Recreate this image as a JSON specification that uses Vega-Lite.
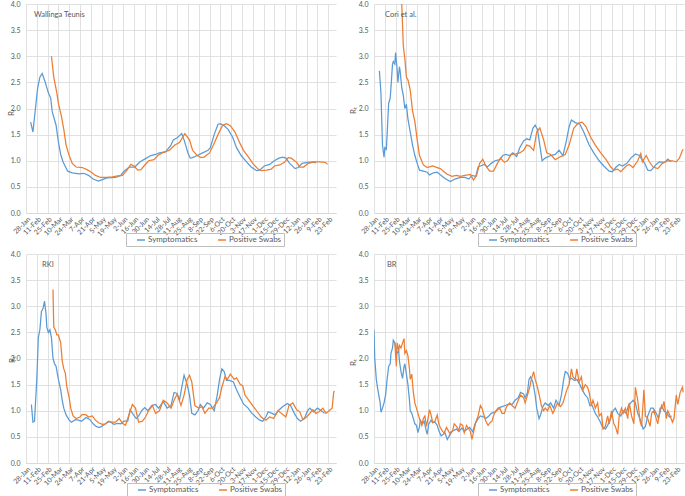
{
"$schema": "https://vega.github.io/schema/vega-lite/v6.json",
"padding": {"left": 7, "top": 0, "right": 2, "bottom": 0},
"background": "white",
"columns": 2,
"spacing": {"row": 41, "column": 38},
"bounds": "flush",
"datasets": {
"W": [
{"s":"S","d":"2020-02-03","v":1.74},{"s":"S","d":"2020-02-06","v":1.55},{"s":"S","d":"2020-02-12","v":2.38},{"s":"S","d":"2020-02-15","v":2.6},{"s":"S","d":"2020-02-18","v":2.67},{"s":"S","d":"2020-02-22","v":2.5},{"s":"S","d":"2020-02-26","v":2.3},{"s":"S","d":"2020-02-29","v":2.2},{"s":"S","d":"2020-03-02","v":1.94},{"s":"S","d":"2020-03-07","v":1.68},{"s":"S","d":"2020-03-10","v":1.36},{"s":"S","d":"2020-03-13","v":1.12},{"s":"S","d":"2020-03-16","v":0.98},{"s":"S","d":"2020-03-22","v":0.8},{"s":"S","d":"2020-03-28","v":0.77},{"s":"S","d":"2020-04-06","v":0.75},{"s":"S","d":"2020-04-12","v":0.76},{"s":"S","d":"2020-04-18","v":0.72},{"s":"S","d":"2020-04-24","v":0.65},{"s":"S","d":"2020-05-01","v":0.61},{"s":"S","d":"2020-05-06","v":0.64},{"s":"S","d":"2020-05-12","v":0.67},{"s":"S","d":"2020-05-23","v":0.68},{"s":"S","d":"2020-05-30","v":0.72},{"s":"S","d":"2020-06-03","v":0.8},{"s":"S","d":"2020-06-10","v":0.88},{"s":"S","d":"2020-06-17","v":0.88},{"s":"S","d":"2020-06-24","v":0.98},{"s":"S","d":"2020-07-01","v":1.04},{"s":"S","d":"2020-07-08","v":1.1},{"s":"S","d":"2020-07-14","v":1.12},{"s":"S","d":"2020-07-19","v":1.15},{"s":"S","d":"2020-07-27","v":1.17},{"s":"S","d":"2020-08-03","v":1.3},{"s":"S","d":"2020-08-06","v":1.4},{"s":"S","d":"2020-08-11","v":1.44},{"s":"S","d":"2020-08-17","v":1.52},{"s":"S","d":"2020-08-20","v":1.4},{"s":"S","d":"2020-08-25","v":1.15},{"s":"S","d":"2020-08-28","v":1.05},{"s":"S","d":"2020-08-31","v":1.06},{"s":"S","d":"2020-09-06","v":1.1},{"s":"S","d":"2020-09-13","v":1.15},{"s":"S","d":"2020-09-20","v":1.2},{"s":"S","d":"2020-09-23","v":1.25},{"s":"S","d":"2020-09-28","v":1.5},{"s":"S","d":"2020-10-03","v":1.7},{"s":"S","d":"2020-10-06","v":1.71},{"s":"S","d":"2020-10-11","v":1.67},{"s":"S","d":"2020-10-16","v":1.6},{"s":"S","d":"2020-10-22","v":1.45},{"s":"S","d":"2020-10-27","v":1.25},{"s":"S","d":"2020-11-02","v":1.1},{"s":"S","d":"2020-11-09","v":0.98},{"s":"S","d":"2020-11-15","v":0.88},{"s":"S","d":"2020-11-22","v":0.81},{"s":"S","d":"2020-11-26","v":0.82},{"s":"S","d":"2020-12-02","v":0.9},{"s":"S","d":"2020-12-09","v":0.93},{"s":"S","d":"2020-12-15","v":1.0},{"s":"S","d":"2020-12-21","v":1.05},{"s":"S","d":"2020-12-26","v":1.07},{"s":"S","d":"2020-12-30","v":1.05},{"s":"S","d":"2021-01-04","v":0.95},{"s":"S","d":"2021-01-11","v":0.85},{"s":"S","d":"2021-01-15","v":0.87},{"s":"S","d":"2021-01-20","v":0.95},{"s":"S","d":"2021-01-28","v":0.97},{"s":"S","d":"2021-02-03","v":0.98},{"s":"S","d":"2021-02-07","v":0.96},
{"s":"P","d":"2020-03-01","v":3.0},{"s":"P","d":"2020-03-04","v":2.6},{"s":"P","d":"2020-03-08","v":2.3},{"s":"P","d":"2020-03-10","v":2.1},{"s":"P","d":"2020-03-14","v":1.85},{"s":"P","d":"2020-03-17","v":1.6},{"s":"P","d":"2020-03-20","v":1.3},{"s":"P","d":"2020-03-24","v":1.1},{"s":"P","d":"2020-03-28","v":0.95},{"s":"P","d":"2020-04-02","v":0.88},{"s":"P","d":"2020-04-10","v":0.87},{"s":"P","d":"2020-04-16","v":0.83},{"s":"P","d":"2020-04-21","v":0.79},{"s":"P","d":"2020-04-27","v":0.72},{"s":"P","d":"2020-05-04","v":0.68},{"s":"P","d":"2020-05-11","v":0.68},{"s":"P","d":"2020-05-19","v":0.69},{"s":"P","d":"2020-05-26","v":0.71},{"s":"P","d":"2020-06-01","v":0.72},{"s":"P","d":"2020-06-06","v":0.8},{"s":"P","d":"2020-06-12","v":0.93},{"s":"P","d":"2020-06-16","v":0.9},{"s":"P","d":"2020-06-21","v":0.82},{"s":"P","d":"2020-06-25","v":0.83},{"s":"P","d":"2020-06-29","v":0.9},{"s":"P","d":"2020-07-05","v":1.0},{"s":"P","d":"2020-07-12","v":1.02},{"s":"P","d":"2020-07-17","v":1.1},{"s":"P","d":"2020-07-24","v":1.16},{"s":"P","d":"2020-08-01","v":1.2},{"s":"P","d":"2020-08-08","v":1.3},{"s":"P","d":"2020-08-14","v":1.35},{"s":"P","d":"2020-08-21","v":1.52},{"s":"P","d":"2020-08-27","v":1.4},{"s":"P","d":"2020-08-31","v":1.2},{"s":"P","d":"2020-09-06","v":1.1},{"s":"P","d":"2020-09-11","v":1.06},{"s":"P","d":"2020-09-15","v":1.07},{"s":"P","d":"2020-09-22","v":1.15},{"s":"P","d":"2020-09-27","v":1.3},{"s":"P","d":"2020-10-03","v":1.5},{"s":"P","d":"2020-10-09","v":1.68},{"s":"P","d":"2020-10-14","v":1.71},{"s":"P","d":"2020-10-19","v":1.67},{"s":"P","d":"2020-10-25","v":1.55},{"s":"P","d":"2020-10-31","v":1.35},{"s":"P","d":"2020-11-05","v":1.2},{"s":"P","d":"2020-11-12","v":1.06},{"s":"P","d":"2020-11-17","v":0.95},{"s":"P","d":"2020-11-24","v":0.84},{"s":"P","d":"2020-11-28","v":0.81},{"s":"P","d":"2020-12-05","v":0.82},{"s":"P","d":"2020-12-11","v":0.84},{"s":"P","d":"2020-12-15","v":0.9},{"s":"P","d":"2020-12-22","v":0.92},{"s":"P","d":"2020-12-28","v":0.97},{"s":"P","d":"2021-01-02","v":1.06},{"s":"P","d":"2021-01-06","v":1.05},{"s":"P","d":"2021-01-13","v":0.97},{"s":"P","d":"2021-01-17","v":0.88},{"s":"P","d":"2021-01-22","v":0.88},{"s":"P","d":"2021-01-28","v":0.95},{"s":"P","d":"2021-02-05","v":0.98},{"s":"P","d":"2021-02-12","v":0.98},{"s":"P","d":"2021-02-19","v":0.97},{"s":"P","d":"2021-02-22","v":0.93}
],
"C": [
{"s":"S","d":"2020-02-04","v":2.72},{"s":"S","d":"2020-02-06","v":2.3},{"s":"S","d":"2020-02-07","v":1.8},{"s":"S","d":"2020-02-08","v":1.3},{"s":"S","d":"2020-02-10","v":1.07},{"s":"S","d":"2020-02-11","v":1.25},{"s":"S","d":"2020-02-13","v":1.22},{"s":"S","d":"2020-02-14","v":1.5},{"s":"S","d":"2020-02-16","v":2.1},{"s":"S","d":"2020-02-18","v":2.2},{"s":"S","d":"2020-02-19","v":2.4},{"s":"S","d":"2020-02-21","v":2.85},{"s":"S","d":"2020-02-22","v":2.9},{"s":"S","d":"2020-02-24","v":2.85},{"s":"S","d":"2020-02-25","v":3.07},{"s":"S","d":"2020-02-27","v":2.75},{"s":"S","d":"2020-02-28","v":2.5},{"s":"S","d":"2020-03-01","v":2.8},{"s":"S","d":"2020-03-02","v":2.7},{"s":"S","d":"2020-03-04","v":2.4},{"s":"S","d":"2020-03-06","v":2.25},{"s":"S","d":"2020-03-08","v":2.0},{"s":"S","d":"2020-03-10","v":2.08},{"s":"S","d":"2020-03-12","v":1.8},{"s":"S","d":"2020-03-15","v":1.55},{"s":"S","d":"2020-03-18","v":1.3},{"s":"S","d":"2020-03-21","v":1.1},{"s":"S","d":"2020-03-24","v":0.95},{"s":"S","d":"2020-03-27","v":0.82},{"s":"S","d":"2020-04-01","v":0.8},{"s":"S","d":"2020-04-06","v":0.78},{"s":"S","d":"2020-04-09","v":0.73},{"s":"S","d":"2020-04-14","v":0.77},{"s":"S","d":"2020-04-19","v":0.78},{"s":"S","d":"2020-04-23","v":0.73},{"s":"S","d":"2020-04-29","v":0.66},{"s":"S","d":"2020-05-06","v":0.6},{"s":"S","d":"2020-05-12","v":0.65},{"s":"S","d":"2020-05-19","v":0.68},{"s":"S","d":"2020-05-25","v":0.68},{"s":"S","d":"2020-05-30","v":0.65},{"s":"S","d":"2020-06-03","v":0.72},{"s":"S","d":"2020-06-08","v":0.7},{"s":"S","d":"2020-06-11","v":0.88},{"s":"S","d":"2020-06-14","v":0.9},{"s":"S","d":"2020-06-19","v":0.93},{"s":"S","d":"2020-06-23","v":0.88},{"s":"S","d":"2020-06-28","v":0.95},{"s":"S","d":"2020-07-03","v":1.0},{"s":"S","d":"2020-07-09","v":1.02},{"s":"S","d":"2020-07-13","v":1.1},{"s":"S","d":"2020-07-17","v":1.12},{"s":"S","d":"2020-07-22","v":1.1},{"s":"S","d":"2020-07-26","v":1.15},{"s":"S","d":"2020-07-31","v":1.08},{"s":"S","d":"2020-08-04","v":1.25},{"s":"S","d":"2020-08-09","v":1.38},{"s":"S","d":"2020-08-13","v":1.42},{"s":"S","d":"2020-08-17","v":1.4},{"s":"S","d":"2020-08-21","v":1.62},{"s":"S","d":"2020-08-24","v":1.68},{"s":"S","d":"2020-08-27","v":1.6},{"s":"S","d":"2020-08-30","v":1.3},{"s":"S","d":"2020-09-02","v":1.0},{"s":"S","d":"2020-09-06","v":1.05},{"s":"S","d":"2020-09-13","v":1.1},{"s":"S","d":"2020-09-19","v":1.12},{"s":"S","d":"2020-09-24","v":1.2},{"s":"S","d":"2020-09-29","v":1.1},{"s":"S","d":"2020-10-03","v":1.35},{"s":"S","d":"2020-10-07","v":1.65},{"s":"S","d":"2020-10-10","v":1.78},{"s":"S","d":"2020-10-15","v":1.73},{"s":"S","d":"2020-10-21","v":1.7},{"s":"S","d":"2020-10-26","v":1.55},{"s":"S","d":"2020-11-02","v":1.3},{"s":"S","d":"2020-11-08","v":1.15},{"s":"S","d":"2020-11-15","v":1.0},{"s":"S","d":"2020-11-21","v":0.9},{"s":"S","d":"2020-11-28","v":0.8},{"s":"S","d":"2020-12-02","v":0.79},{"s":"S","d":"2020-12-07","v":0.88},{"s":"S","d":"2020-12-11","v":0.93},{"s":"S","d":"2020-12-15","v":0.9},{"s":"S","d":"2020-12-21","v":0.95},{"s":"S","d":"2020-12-26","v":1.05},{"s":"S","d":"2021-01-01","v":1.13},{"s":"S","d":"2021-01-06","v":1.1},{"s":"S","d":"2021-01-13","v":0.95},{"s":"S","d":"2021-01-17","v":0.82},{"s":"S","d":"2021-01-21","v":0.81},{"s":"S","d":"2021-01-28","v":0.93},{"s":"S","d":"2021-02-01","v":0.98},{"s":"S","d":"2021-02-08","v":0.97},{"s":"S","d":"2021-02-12","v":1.03},{"s":"S","d":"2021-02-16","v":0.98},
{"s":"P","d":"2020-03-03","v":4.4},{"s":"P","d":"2020-03-06","v":3.2},{"s":"P","d":"2020-03-08","v":2.95},{"s":"P","d":"2020-03-10","v":2.6},{"s":"P","d":"2020-03-12","v":2.55},{"s":"P","d":"2020-03-15","v":2.35},{"s":"P","d":"2020-03-18","v":1.95},{"s":"P","d":"2020-03-21","v":1.75},{"s":"P","d":"2020-03-24","v":1.4},{"s":"P","d":"2020-03-27","v":1.1},{"s":"P","d":"2020-04-01","v":0.92},{"s":"P","d":"2020-04-06","v":0.87},{"s":"P","d":"2020-04-13","v":0.9},{"s":"P","d":"2020-04-19","v":0.87},{"s":"P","d":"2020-04-23","v":0.85},{"s":"P","d":"2020-04-27","v":0.8},{"s":"P","d":"2020-05-02","v":0.74},{"s":"P","d":"2020-05-08","v":0.7},{"s":"P","d":"2020-05-14","v":0.72},{"s":"P","d":"2020-05-19","v":0.7},{"s":"P","d":"2020-05-25","v":0.72},{"s":"P","d":"2020-06-01","v":0.74},{"s":"P","d":"2020-06-05","v":0.63},{"s":"P","d":"2020-06-09","v":0.72},{"s":"P","d":"2020-06-13","v":0.95},{"s":"P","d":"2020-06-17","v":1.03},{"s":"P","d":"2020-06-21","v":0.9},{"s":"P","d":"2020-06-26","v":0.8},{"s":"P","d":"2020-07-01","v":0.8},{"s":"P","d":"2020-07-06","v":0.95},{"s":"P","d":"2020-07-10","v":1.05},{"s":"P","d":"2020-07-15","v":0.97},{"s":"P","d":"2020-07-19","v":1.0},{"s":"P","d":"2020-07-24","v":1.12},{"s":"P","d":"2020-07-30","v":1.13},{"s":"P","d":"2020-08-04","v":1.15},{"s":"P","d":"2020-08-09","v":1.2},{"s":"P","d":"2020-08-13","v":1.3},{"s":"P","d":"2020-08-17","v":1.28},{"s":"P","d":"2020-08-22","v":1.2},{"s":"P","d":"2020-08-26","v":1.55},{"s":"P","d":"2020-08-30","v":1.63},{"s":"P","d":"2020-09-04","v":1.4},{"s":"P","d":"2020-09-08","v":1.15},{"s":"P","d":"2020-09-13","v":1.12},{"s":"P","d":"2020-09-19","v":1.02},{"s":"P","d":"2020-09-26","v":1.08},{"s":"P","d":"2020-10-02","v":1.12},{"s":"P","d":"2020-10-07","v":1.3},{"s":"P","d":"2020-10-13","v":1.62},{"s":"P","d":"2020-10-19","v":1.72},{"s":"P","d":"2020-10-24","v":1.74},{"s":"P","d":"2020-10-29","v":1.65},{"s":"P","d":"2020-11-04","v":1.45},{"s":"P","d":"2020-11-10","v":1.3},{"s":"P","d":"2020-11-17","v":1.15},{"s":"P","d":"2020-11-24","v":1.02},{"s":"P","d":"2020-11-30","v":0.88},{"s":"P","d":"2020-12-04","v":0.82},{"s":"P","d":"2020-12-09","v":0.84},{"s":"P","d":"2020-12-13","v":0.79},{"s":"P","d":"2020-12-20","v":0.9},{"s":"P","d":"2020-12-24","v":0.93},{"s":"P","d":"2020-12-29","v":0.87},{"s":"P","d":"2021-01-04","v":1.0},{"s":"P","d":"2021-01-08","v":1.14},{"s":"P","d":"2021-01-10","v":0.98},{"s":"P","d":"2021-01-15","v":1.1},{"s":"P","d":"2021-01-19","v":0.98},{"s":"P","d":"2021-01-24","v":0.88},{"s":"P","d":"2021-01-30","v":0.85},{"s":"P","d":"2021-02-05","v":0.95},{"s":"P","d":"2021-02-12","v":1.0},{"s":"P","d":"2021-02-18","v":1.0},{"s":"P","d":"2021-02-23","v":0.98},{"s":"P","d":"2021-02-27","v":1.05},{"s":"P","d":"2021-03-03","v":1.2},{"s":"P","d":"2021-03-04","v":1.22}
],
"R": [
{"s":"S","d":"2020-02-04","v":1.12},{"s":"S","d":"2020-02-06","v":0.78},{"s":"S","d":"2020-02-08","v":0.8},{"s":"S","d":"2020-02-11","v":1.6},{"s":"S","d":"2020-02-13","v":2.4},{"s":"S","d":"2020-02-15","v":2.55},{"s":"S","d":"2020-02-17","v":2.9},{"s":"S","d":"2020-02-19","v":2.95},{"s":"S","d":"2020-02-21","v":3.1},{"s":"S","d":"2020-02-23","v":2.85},{"s":"S","d":"2020-02-24","v":2.6},{"s":"S","d":"2020-02-26","v":2.5},{"s":"S","d":"2020-02-28","v":2.55},{"s":"S","d":"2020-03-01","v":2.4},{"s":"S","d":"2020-03-03","v":2.0},{"s":"S","d":"2020-03-05","v":1.9},{"s":"S","d":"2020-03-07","v":1.85},{"s":"S","d":"2020-03-10","v":1.6},{"s":"S","d":"2020-03-13","v":1.4},{"s":"S","d":"2020-03-15","v":1.2},{"s":"S","d":"2020-03-17","v":1.05},{"s":"S","d":"2020-03-20","v":0.92},{"s":"S","d":"2020-03-24","v":0.82},{"s":"S","d":"2020-03-27","v":0.78},{"s":"S","d":"2020-04-01","v":0.83},{"s":"S","d":"2020-04-05","v":0.82},{"s":"S","d":"2020-04-09","v":0.8},{"s":"S","d":"2020-04-15","v":0.87},{"s":"S","d":"2020-04-20","v":0.83},{"s":"S","d":"2020-04-24","v":0.75},{"s":"S","d":"2020-04-28","v":0.7},{"s":"S","d":"2020-05-02","v":0.68},{"s":"S","d":"2020-05-06","v":0.71},{"s":"S","d":"2020-05-12","v":0.77},{"s":"S","d":"2020-05-16","v":0.79},{"s":"S","d":"2020-05-21","v":0.74},{"s":"S","d":"2020-05-26","v":0.76},{"s":"S","d":"2020-05-30","v":0.75},{"s":"S","d":"2020-06-03","v":0.8},{"s":"S","d":"2020-06-08","v":0.8},{"s":"S","d":"2020-06-11","v":1.02},{"s":"S","d":"2020-06-14","v":0.95},{"s":"S","d":"2020-06-19","v":0.85},{"s":"S","d":"2020-06-22","v":0.9},{"s":"S","d":"2020-06-26","v":1.0},{"s":"S","d":"2020-06-30","v":1.06},{"s":"S","d":"2020-07-04","v":1.0},{"s":"S","d":"2020-07-09","v":1.1},{"s":"S","d":"2020-07-14","v":1.12},{"s":"S","d":"2020-07-18","v":1.05},{"s":"S","d":"2020-07-24","v":1.18},{"s":"S","d":"2020-07-29","v":1.05},{"s":"S","d":"2020-08-03","v":1.1},{"s":"S","d":"2020-08-07","v":1.35},{"s":"S","d":"2020-08-11","v":1.33},{"s":"S","d":"2020-08-14","v":1.2},{"s":"S","d":"2020-08-17","v":1.45},{"s":"S","d":"2020-08-20","v":1.68},{"s":"S","d":"2020-08-24","v":1.5},{"s":"S","d":"2020-08-27","v":1.3},{"s":"S","d":"2020-08-30","v":0.95},{"s":"S","d":"2020-09-03","v":0.92},{"s":"S","d":"2020-09-07","v":1.0},{"s":"S","d":"2020-09-10","v":1.12},{"s":"S","d":"2020-09-14","v":1.05},{"s":"S","d":"2020-09-19","v":1.15},{"s":"S","d":"2020-09-23","v":1.12},{"s":"S","d":"2020-09-28","v":1.0},{"s":"S","d":"2020-10-02","v":1.3},{"s":"S","d":"2020-10-05","v":1.6},{"s":"S","d":"2020-10-08","v":1.8},{"s":"S","d":"2020-10-11","v":1.75},{"s":"S","d":"2020-10-14","v":1.58},{"s":"S","d":"2020-10-18","v":1.58},{"s":"S","d":"2020-10-23","v":1.55},{"s":"S","d":"2020-10-27","v":1.4},{"s":"S","d":"2020-11-01","v":1.25},{"s":"S","d":"2020-11-05","v":1.13},{"s":"S","d":"2020-11-11","v":1.05},{"s":"S","d":"2020-11-16","v":0.95},{"s":"S","d":"2020-11-21","v":0.88},{"s":"S","d":"2020-11-26","v":0.82},{"s":"S","d":"2020-11-30","v":0.8},{"s":"S","d":"2020-12-04","v":0.88},{"s":"S","d":"2020-12-07","v":0.98},{"s":"S","d":"2020-12-12","v":0.95},{"s":"S","d":"2020-12-16","v":0.92},{"s":"S","d":"2020-12-20","v":1.0},{"s":"S","d":"2020-12-26","v":1.08},{"s":"S","d":"2021-01-01","v":1.14},{"s":"S","d":"2021-01-05","v":1.1},{"s":"S","d":"2021-01-10","v":0.95},{"s":"S","d":"2021-01-14","v":0.85},{"s":"S","d":"2021-01-18","v":0.8},{"s":"S","d":"2021-01-23","v":0.85},{"s":"S","d":"2021-01-27","v":1.0},{"s":"S","d":"2021-01-30","v":1.05},{"s":"S","d":"2021-02-04","v":0.98},{"s":"S","d":"2021-02-09","v":1.05},{"s":"S","d":"2021-02-14","v":1.0},{"s":"S","d":"2021-02-18","v":0.95},
{"s":"P","d":"2020-03-03","v":3.32},{"s":"P","d":"2020-03-04","v":2.6},{"s":"P","d":"2020-03-06","v":2.55},{"s":"P","d":"2020-03-08","v":2.45},{"s":"P","d":"2020-03-10","v":2.45},{"s":"P","d":"2020-03-13","v":2.3},{"s":"P","d":"2020-03-15","v":1.95},{"s":"P","d":"2020-03-17","v":1.8},{"s":"P","d":"2020-03-19","v":1.72},{"s":"P","d":"2020-03-21","v":1.45},{"s":"P","d":"2020-03-24","v":1.25},{"s":"P","d":"2020-03-26","v":1.05},{"s":"P","d":"2020-03-29","v":0.9},{"s":"P","d":"2020-04-02","v":0.85},{"s":"P","d":"2020-04-07","v":0.88},{"s":"P","d":"2020-04-10","v":0.93},{"s":"P","d":"2020-04-15","v":0.92},{"s":"P","d":"2020-04-18","v":0.88},{"s":"P","d":"2020-04-23","v":0.9},{"s":"P","d":"2020-04-27","v":0.82},{"s":"P","d":"2020-05-01","v":0.77},{"s":"P","d":"2020-05-06","v":0.74},{"s":"P","d":"2020-05-10","v":0.75},{"s":"P","d":"2020-05-14","v":0.8},{"s":"P","d":"2020-05-19","v":0.78},{"s":"P","d":"2020-05-23","v":0.78},{"s":"P","d":"2020-05-28","v":0.85},{"s":"P","d":"2020-06-01","v":0.76},{"s":"P","d":"2020-06-05","v":0.72},{"s":"P","d":"2020-06-09","v":0.9},{"s":"P","d":"2020-06-14","v":1.12},{"s":"P","d":"2020-06-18","v":1.05},{"s":"P","d":"2020-06-22","v":0.78},{"s":"P","d":"2020-06-27","v":0.8},{"s":"P","d":"2020-07-01","v":0.88},{"s":"P","d":"2020-07-05","v":1.0},{"s":"P","d":"2020-07-10","v":1.1},{"s":"P","d":"2020-07-14","v":0.95},{"s":"P","d":"2020-07-19","v":1.0},{"s":"P","d":"2020-07-24","v":1.2},{"s":"P","d":"2020-07-29","v":1.15},{"s":"P","d":"2020-08-03","v":1.05},{"s":"P","d":"2020-08-07","v":1.2},{"s":"P","d":"2020-08-11","v":1.32},{"s":"P","d":"2020-08-16","v":1.1},{"s":"P","d":"2020-08-20","v":1.3},{"s":"P","d":"2020-08-24","v":1.6},{"s":"P","d":"2020-08-27","v":1.68},{"s":"P","d":"2020-08-30","v":1.55},{"s":"P","d":"2020-09-03","v":1.1},{"s":"P","d":"2020-09-08","v":1.05},{"s":"P","d":"2020-09-12","v":1.08},{"s":"P","d":"2020-09-16","v":0.95},{"s":"P","d":"2020-09-21","v":1.05},{"s":"P","d":"2020-09-26","v":1.05},{"s":"P","d":"2020-10-01","v":1.15},{"s":"P","d":"2020-10-05","v":1.25},{"s":"P","d":"2020-10-08","v":1.45},{"s":"P","d":"2020-10-12","v":1.65},{"s":"P","d":"2020-10-15","v":1.6},{"s":"P","d":"2020-10-19","v":1.7},{"s":"P","d":"2020-10-24","v":1.6},{"s":"P","d":"2020-10-27","v":1.63},{"s":"P","d":"2020-11-01","v":1.5},{"s":"P","d":"2020-11-04","v":1.48},{"s":"P","d":"2020-11-07","v":1.3},{"s":"P","d":"2020-11-12","v":1.2},{"s":"P","d":"2020-11-17","v":1.1},{"s":"P","d":"2020-11-22","v":1.0},{"s":"P","d":"2020-11-28","v":0.88},{"s":"P","d":"2020-12-04","v":0.82},{"s":"P","d":"2020-12-09","v":0.88},{"s":"P","d":"2020-12-14","v":0.85},{"s":"P","d":"2020-12-20","v":1.0},{"s":"P","d":"2020-12-24","v":0.95},{"s":"P","d":"2020-12-30","v":0.88},{"s":"P","d":"2021-01-03","v":1.1},{"s":"P","d":"2021-01-08","v":1.15},{"s":"P","d":"2021-01-13","v":1.02},{"s":"P","d":"2021-01-17","v":0.98},{"s":"P","d":"2021-01-21","v":0.83},{"s":"P","d":"2021-01-26","v":0.88},{"s":"P","d":"2021-01-30","v":0.95},{"s":"P","d":"2021-02-03","v":1.02},{"s":"P","d":"2021-02-07","v":0.95},{"s":"P","d":"2021-02-11","v":0.98},{"s":"P","d":"2021-02-16","v":1.05},{"s":"P","d":"2021-02-20","v":0.95},{"s":"P","d":"2021-02-24","v":1.0},{"s":"P","d":"2021-02-28","v":1.05},{"s":"P","d":"2021-03-02","v":1.35},{"s":"P","d":"2021-03-03","v":1.38}
],
"B": [
{"s":"S","d":"2020-01-28","v":2.55},{"s":"S","d":"2020-01-29","v":2.0},{"s":"S","d":"2020-01-31","v":1.6},{"s":"S","d":"2020-02-02","v":1.4},{"s":"S","d":"2020-02-05","v":1.15},{"s":"S","d":"2020-02-06","v":0.97},{"s":"S","d":"2020-02-08","v":1.05},{"s":"S","d":"2020-02-10","v":1.15},{"s":"S","d":"2020-02-12","v":1.3},{"s":"S","d":"2020-02-14","v":1.6},{"s":"S","d":"2020-02-16","v":1.85},{"s":"S","d":"2020-02-18","v":1.9},{"s":"S","d":"2020-02-19","v":2.1},{"s":"S","d":"2020-02-21","v":2.2},{"s":"S","d":"2020-02-22","v":2.35},{"s":"S","d":"2020-02-24","v":2.3},{"s":"S","d":"2020-02-26","v":2.15},{"s":"S","d":"2020-02-27","v":2.1},{"s":"S","d":"2020-02-29","v":2.15},{"s":"S","d":"2020-03-01","v":1.95},{"s":"S","d":"2020-03-03","v":1.75},{"s":"S","d":"2020-03-05","v":1.62},{"s":"S","d":"2020-03-07","v":1.85},{"s":"S","d":"2020-03-08","v":1.9},{"s":"S","d":"2020-03-10","v":1.7},{"s":"S","d":"2020-03-12","v":1.5},{"s":"S","d":"2020-03-14","v":1.2},{"s":"S","d":"2020-03-15","v":1.0},{"s":"S","d":"2020-03-17","v":0.95},{"s":"S","d":"2020-03-19","v":0.85},{"s":"S","d":"2020-03-21","v":0.75},{"s":"S","d":"2020-03-23","v":0.72},{"s":"S","d":"2020-03-25","v":0.58},{"s":"S","d":"2020-03-27","v":0.7},{"s":"S","d":"2020-03-28","v":0.82},{"s":"S","d":"2020-03-31","v":0.75},{"s":"S","d":"2020-04-02","v":0.8},{"s":"S","d":"2020-04-05","v":0.6},{"s":"S","d":"2020-04-06","v":0.55},{"s":"S","d":"2020-04-08","v":0.75},{"s":"S","d":"2020-04-11","v":0.82},{"s":"S","d":"2020-04-13","v":0.77},{"s":"S","d":"2020-04-16","v":0.78},{"s":"S","d":"2020-04-19","v":0.72},{"s":"S","d":"2020-04-21","v":0.62},{"s":"S","d":"2020-04-24","v":0.52},{"s":"S","d":"2020-04-27","v":0.55},{"s":"S","d":"2020-04-29","v":0.58},{"s":"S","d":"2020-05-02","v":0.45},{"s":"S","d":"2020-05-04","v":0.5},{"s":"S","d":"2020-05-07","v":0.6},{"s":"S","d":"2020-05-10","v":0.62},{"s":"S","d":"2020-05-14","v":0.65},{"s":"S","d":"2020-05-17","v":0.6},{"s":"S","d":"2020-05-21","v":0.67},{"s":"S","d":"2020-05-24","v":0.6},{"s":"S","d":"2020-05-28","v":0.65},{"s":"S","d":"2020-05-31","v":0.68},{"s":"S","d":"2020-06-04","v":0.6},{"s":"S","d":"2020-06-07","v":0.75},{"s":"S","d":"2020-06-11","v":0.85},{"s":"S","d":"2020-06-14","v":0.9},{"s":"S","d":"2020-06-18","v":0.88},{"s":"S","d":"2020-06-21","v":0.85},{"s":"S","d":"2020-06-25","v":0.9},{"s":"S","d":"2020-06-28","v":0.95},{"s":"S","d":"2020-07-03","v":0.98},{"s":"S","d":"2020-07-07","v":1.05},{"s":"S","d":"2020-07-12","v":1.08},{"s":"S","d":"2020-07-16","v":1.1},{"s":"S","d":"2020-07-20","v":1.12},{"s":"S","d":"2020-07-25","v":1.12},{"s":"S","d":"2020-07-29","v":1.2},{"s":"S","d":"2020-08-02","v":1.25},{"s":"S","d":"2020-08-05","v":1.35},{"s":"S","d":"2020-08-09","v":1.32},{"s":"S","d":"2020-08-11","v":1.25},{"s":"S","d":"2020-08-14","v":1.35},{"s":"S","d":"2020-08-16","v":1.6},{"s":"S","d":"2020-08-18","v":1.65},{"s":"S","d":"2020-08-21","v":1.55},{"s":"S","d":"2020-08-24","v":1.3},{"s":"S","d":"2020-08-26","v":1.05},{"s":"S","d":"2020-08-29","v":0.85},{"s":"S","d":"2020-08-31","v":0.92},{"s":"S","d":"2020-09-03","v":1.08},{"s":"S","d":"2020-09-06","v":1.15},{"s":"S","d":"2020-09-10","v":1.1},{"s":"S","d":"2020-09-13","v":1.15},{"s":"S","d":"2020-09-17","v":1.05},{"s":"S","d":"2020-09-20","v":1.2},{"s":"S","d":"2020-09-24","v":1.1},{"s":"S","d":"2020-09-27","v":1.3},{"s":"S","d":"2020-09-30","v":1.6},{"s":"S","d":"2020-10-02","v":1.75},{"s":"S","d":"2020-10-05","v":1.72},{"s":"S","d":"2020-10-08","v":1.6},{"s":"S","d":"2020-10-10","v":1.62},{"s":"S","d":"2020-10-14","v":1.58},{"s":"S","d":"2020-10-17","v":1.6},{"s":"S","d":"2020-10-21","v":1.5},{"s":"S","d":"2020-10-24","v":1.4},{"s":"S","d":"2020-10-28","v":1.3},{"s":"S","d":"2020-10-31","v":1.25},{"s":"S","d":"2020-11-03","v":1.1},{"s":"S","d":"2020-11-06","v":1.1},{"s":"S","d":"2020-11-10","v":0.95},{"s":"S","d":"2020-11-13","v":0.88},{"s":"S","d":"2020-11-16","v":0.8},{"s":"S","d":"2020-11-19","v":0.7},{"s":"S","d":"2020-11-23","v":0.65},{"s":"S","d":"2020-11-26","v":0.72},{"s":"S","d":"2020-11-30","v":0.85},{"s":"S","d":"2020-12-03","v":1.0},{"s":"S","d":"2020-12-06","v":1.05},{"s":"S","d":"2020-12-09","v":0.95},{"s":"S","d":"2020-12-13","v":0.9},{"s":"S","d":"2020-12-16","v":1.0},{"s":"S","d":"2020-12-20","v":0.95},{"s":"S","d":"2020-12-23","v":1.1},{"s":"S","d":"2020-12-26","v":1.15},{"s":"S","d":"2020-12-29","v":1.2},{"s":"S","d":"2021-01-01","v":1.15},{"s":"S","d":"2021-01-04","v":0.95},{"s":"S","d":"2021-01-08","v":0.8},{"s":"S","d":"2021-01-11","v":0.65},{"s":"S","d":"2021-01-14","v":0.7},{"s":"S","d":"2021-01-17","v":0.9},{"s":"S","d":"2021-01-21","v":1.05},{"s":"S","d":"2021-01-24","v":1.05},{"s":"S","d":"2021-01-28","v":0.95},{"s":"S","d":"2021-01-31","v":0.85},{"s":"S","d":"2021-02-04","v":1.1},{"s":"S","d":"2021-02-07","v":1.0},{"s":"S","d":"2021-02-11","v":0.95},{"s":"S","d":"2021-02-14","v":0.88},{"s":"S","d":"2021-02-17","v":0.9},
{"s":"P","d":"2020-02-24","v":2.3},{"s":"P","d":"2020-02-26","v":1.85},{"s":"P","d":"2020-02-27","v":2.3},{"s":"P","d":"2020-02-29","v":2.15},{"s":"P","d":"2020-03-01","v":2.25},{"s":"P","d":"2020-03-03","v":2.2},{"s":"P","d":"2020-03-05","v":2.3},{"s":"P","d":"2020-03-07","v":2.38},{"s":"P","d":"2020-03-08","v":2.1},{"s":"P","d":"2020-03-10","v":2.15},{"s":"P","d":"2020-03-12","v":2.05},{"s":"P","d":"2020-03-14","v":1.8},{"s":"P","d":"2020-03-15","v":1.6},{"s":"P","d":"2020-03-17","v":1.7},{"s":"P","d":"2020-03-19","v":1.35},{"s":"P","d":"2020-03-21","v":1.15},{"s":"P","d":"2020-03-23","v":1.05},{"s":"P","d":"2020-03-25","v":0.95},{"s":"P","d":"2020-03-27","v":0.85},{"s":"P","d":"2020-03-30","v":0.72},{"s":"P","d":"2020-04-01","v":0.85},{"s":"P","d":"2020-04-03","v":0.9},{"s":"P","d":"2020-04-05","v":0.7},{"s":"P","d":"2020-04-07","v":0.85},{"s":"P","d":"2020-04-09","v":1.02},{"s":"P","d":"2020-04-11","v":0.92},{"s":"P","d":"2020-04-13","v":0.78},{"s":"P","d":"2020-04-16","v":0.8},{"s":"P","d":"2020-04-19","v":0.92},{"s":"P","d":"2020-04-21","v":0.75},{"s":"P","d":"2020-04-23","v":0.68},{"s":"P","d":"2020-04-26","v":0.6},{"s":"P","d":"2020-04-28","v":0.58},{"s":"P","d":"2020-05-01","v":0.68},{"s":"P","d":"2020-05-04","v":0.6},{"s":"P","d":"2020-05-06","v":0.55},{"s":"P","d":"2020-05-09","v":0.62},{"s":"P","d":"2020-05-11","v":0.75},{"s":"P","d":"2020-05-14","v":0.7},{"s":"P","d":"2020-05-17","v":0.62},{"s":"P","d":"2020-05-19","v":0.75},{"s":"P","d":"2020-05-22","v":0.72},{"s":"P","d":"2020-05-24","v":0.58},{"s":"P","d":"2020-05-27","v":0.72},{"s":"P","d":"2020-05-30","v":0.65},{"s":"P","d":"2020-06-01","v":0.6},{"s":"P","d":"2020-06-03","v":0.45},{"s":"P","d":"2020-06-06","v":0.65},{"s":"P","d":"2020-06-08","v":0.78},{"s":"P","d":"2020-06-11","v":0.9},{"s":"P","d":"2020-06-14","v":1.1},{"s":"P","d":"2020-06-16","v":1.05},{"s":"P","d":"2020-06-19","v":0.9},{"s":"P","d":"2020-06-21","v":0.8},{"s":"P","d":"2020-06-24","v":0.72},{"s":"P","d":"2020-06-27","v":0.78},{"s":"P","d":"2020-06-29","v":0.8},{"s":"P","d":"2020-07-02","v":0.95},{"s":"P","d":"2020-07-05","v":1.0},{"s":"P","d":"2020-07-09","v":1.05},{"s":"P","d":"2020-07-12","v":0.95},{"s":"P","d":"2020-07-15","v":0.95},{"s":"P","d":"2020-07-18","v":1.08},{"s":"P","d":"2020-07-22","v":1.15},{"s":"P","d":"2020-07-25","v":1.1},{"s":"P","d":"2020-07-29","v":1.05},{"s":"P","d":"2020-08-02","v":1.2},{"s":"P","d":"2020-08-05","v":1.3},{"s":"P","d":"2020-08-09","v":1.25},{"s":"P","d":"2020-08-11","v":1.15},{"s":"P","d":"2020-08-14","v":1.3},{"s":"P","d":"2020-08-17","v":1.45},{"s":"P","d":"2020-08-19","v":1.6},{"s":"P","d":"2020-08-22","v":1.75},{"s":"P","d":"2020-08-24","v":1.6},{"s":"P","d":"2020-08-27","v":1.45},{"s":"P","d":"2020-08-30","v":1.25},{"s":"P","d":"2020-09-01","v":1.1},{"s":"P","d":"2020-09-04","v":1.0},{"s":"P","d":"2020-09-06","v":1.05},{"s":"P","d":"2020-09-09","v":1.0},{"s":"P","d":"2020-09-12","v":1.1},{"s":"P","d":"2020-09-16","v":0.95},{"s":"P","d":"2020-09-19","v":1.05},{"s":"P","d":"2020-09-22","v":1.15},{"s":"P","d":"2020-09-26","v":1.08},{"s":"P","d":"2020-09-29","v":1.15},{"s":"P","d":"2020-10-02","v":1.3},{"s":"P","d":"2020-10-04","v":1.4},{"s":"P","d":"2020-10-07","v":1.5},{"s":"P","d":"2020-10-10","v":1.8},{"s":"P","d":"2020-10-12","v":1.65},{"s":"P","d":"2020-10-15","v":1.6},{"s":"P","d":"2020-10-17","v":1.8},{"s":"P","d":"2020-10-20","v":1.55},{"s":"P","d":"2020-10-23","v":1.65},{"s":"P","d":"2020-10-25","v":1.4},{"s":"P","d":"2020-10-28","v":1.5},{"s":"P","d":"2020-10-31","v":1.45},{"s":"P","d":"2020-11-02","v":1.35},{"s":"P","d":"2020-11-05","v":1.1},{"s":"P","d":"2020-11-07","v":1.2},{"s":"P","d":"2020-11-10","v":1.05},{"s":"P","d":"2020-11-13","v":1.15},{"s":"P","d":"2020-11-15","v":0.9},{"s":"P","d":"2020-11-18","v":0.95},{"s":"P","d":"2020-11-20","v":0.65},{"s":"P","d":"2020-11-23","v":0.7},{"s":"P","d":"2020-11-26","v":0.9},{"s":"P","d":"2020-11-28","v":0.75},{"s":"P","d":"2020-12-01","v":1.0},{"s":"P","d":"2020-12-04","v":0.75},{"s":"P","d":"2020-12-06","v":0.7},{"s":"P","d":"2020-12-09","v":0.55},{"s":"P","d":"2020-12-11","v":0.9},{"s":"P","d":"2020-12-14","v":1.05},{"s":"P","d":"2020-12-16","v":0.95},{"s":"P","d":"2020-12-19","v":1.05},{"s":"P","d":"2020-12-22","v":0.85},{"s":"P","d":"2020-12-24","v":1.15},{"s":"P","d":"2020-12-27","v":0.9},{"s":"P","d":"2020-12-30","v":0.75},{"s":"P","d":"2021-01-01","v":1.45},{"s":"P","d":"2021-01-04","v":1.2},{"s":"P","d":"2021-01-07","v":0.8},{"s":"P","d":"2021-01-09","v":0.7},{"s":"P","d":"2021-01-12","v":1.4},{"s":"P","d":"2021-01-14","v":0.9},{"s":"P","d":"2021-01-17","v":0.85},{"s":"P","d":"2021-01-20","v":0.7},{"s":"P","d":"2021-01-22","v":0.95},{"s":"P","d":"2021-01-25","v":1.0},{"s":"P","d":"2021-01-28","v":0.85},{"s":"P","d":"2021-01-30","v":0.75},{"s":"P","d":"2021-02-02","v":1.05},{"s":"P","d":"2021-02-05","v":1.05},{"s":"P","d":"2021-02-07","v":1.18},{"s":"P","d":"2021-02-10","v":0.85},{"s":"P","d":"2021-02-12","v":1.0},{"s":"P","d":"2021-02-15","v":0.9},{"s":"P","d":"2021-02-18","v":0.78},{"s":"P","d":"2021-02-20","v":0.85},{"s":"P","d":"2021-02-23","v":1.3},{"s":"P","d":"2021-02-25","v":1.12},{"s":"P","d":"2021-02-28","v":1.35},{"s":"P","d":"2021-03-03","v":1.45},{"s":"P","d":"2021-03-04","v":1.35}
]
},
"concat": [
{"width": 310, "height": 209, "data": {"name": "W"},
 "title": {"text": "Wallinga Teunis", "dx": 27},
 "mark": {"type": "line", "strokeWidth": 1.25, "clip": true},
 "encoding": {
  "x": {"field": "d", "type": "temporal", "title": null, "scale": {"type": "utc", "domain": [1580169600000, 1614902400000]},
   "axis": {"values": [1580169600000,1581379200000,1582588800000,1583798400000,1585008000000,1586217600000,1587427200000,1588636800000,1589846400000,1591056000000,1592265600000,1593475200000,1594684800000,1595894400000,1597104000000,1598313600000,1599523200000,1600732800000,1601942400000,1603152000000,1604361600000,1605571200000,1606780800000,1607990400000,1609200000000,1610409600000,1611619200000,1612828800000,1614038400000], "format": "%-d-%b"}},
  "y": {"field": "v", "type": "quantitative", "scale": {"domain": [0, 4]}, "axis": {"values": [0,0.5,1,1.5,2,2.5,3,3.5,4], "format": ".1f", "title": "Rₜ", "titleX": -11, "titleY": 108}},
  "color": {"field": "s", "type": "nominal", "scale": {"domain": ["S", "P"], "range": ["#5b9bd5", "#ed7d31"]},
   "legend": {"title": null, "legendX": 100, "legendY": 229, "labelExpr": "datum.value == 'S' ? 'Symptomatics' : 'Positive Swabs\u00a0\u00a0\u00a0\u00a0'"}}
 }},
{"width": 310, "height": 209, "data": {"name": "C"},
 "title": {"text": "Cori et al.", "dx": 36},
 "mark": {"type": "line", "strokeWidth": 1.25, "clip": true},
 "encoding": {
  "x": {"field": "d", "type": "temporal", "title": null, "scale": {"type": "utc", "domain": [1580169600000, 1614902400000]},
   "axis": {"values": [1580169600000,1581379200000,1582588800000,1583798400000,1585008000000,1586217600000,1587427200000,1588636800000,1589846400000,1591056000000,1592265600000,1593475200000,1594684800000,1595894400000,1597104000000,1598313600000,1599523200000,1600732800000,1601942400000,1603152000000,1604361600000,1605571200000,1606780800000,1607990400000,1609200000000,1610409600000,1611619200000,1612828800000,1614038400000], "format": "%-d-%b"}},
  "y": {"field": "v", "type": "quantitative", "scale": {"domain": [0, 4]}, "axis": {"values": [0,0.5,1,1.5,2,2.5,3,3.5,4], "format": ".1f", "title": "Rₜ", "titleX": -17, "titleY": 106}},
  "color": {"field": "s", "type": "nominal", "scale": {"domain": ["S", "P"], "range": ["#5b9bd5", "#ed7d31"]},
   "legend": {"title": null, "legendX": 104, "legendY": 229, "labelExpr": "datum.value == 'S' ? 'Symptomatics' : 'Positive Swabs\u00a0\u00a0\u00a0\u00a0'"}}
 }},
{"width": 310, "height": 209, "data": {"name": "R"},
 "title": {"text": "RKI", "dx": 34},
 "mark": {"type": "line", "strokeWidth": 1.25, "clip": true},
 "encoding": {
  "x": {"field": "d", "type": "temporal", "title": null, "scale": {"type": "utc", "domain": [1580169600000, 1614902400000]},
   "axis": {"values": [1580169600000,1581379200000,1582588800000,1583798400000,1585008000000,1586217600000,1587427200000,1588636800000,1589846400000,1591056000000,1592265600000,1593475200000,1594684800000,1595894400000,1597104000000,1598313600000,1599523200000,1600732800000,1601942400000,1603152000000,1604361600000,1605571200000,1606780800000,1607990400000,1609200000000,1610409600000,1611619200000,1612828800000,1614038400000], "format": "%-d-%b"}},
  "y": {"field": "v", "type": "quantitative", "scale": {"domain": [0, 4]}, "axis": {"values": [0,0.5,1,1.5,2,2.5,3,3.5,4], "format": ".1f", "title": "Rₜ", "titleX": -10, "titleY": 105}},
  "color": {"field": "s", "type": "nominal", "scale": {"domain": ["S", "P"], "range": ["#5b9bd5", "#ed7d31"]},
   "legend": {"title": null, "legendX": 101, "legendY": 229, "labelExpr": "datum.value == 'S' ? 'Symptomatics' : 'Positive Swabs\u00a0\u00a0\u00a0\u00a0'"}}
 }},
{"width": 310, "height": 209, "data": {"name": "B"},
 "title": {"text": "BR", "dx": 38},
 "mark": {"type": "line", "strokeWidth": 1.25, "clip": true},
 "encoding": {
  "x": {"field": "d", "type": "temporal", "title": null, "scale": {"type": "utc", "domain": [1580169600000, 1614902400000]},
   "axis": {"values": [1580169600000,1581379200000,1582588800000,1583798400000,1585008000000,1586217600000,1587427200000,1588636800000,1589846400000,1591056000000,1592265600000,1593475200000,1594684800000,1595894400000,1597104000000,1598313600000,1599523200000,1600732800000,1601942400000,1603152000000,1604361600000,1605571200000,1606780800000,1607990400000,1609200000000,1610409600000,1611619200000,1612828800000,1614038400000], "format": "%-d-%b"}},
  "y": {"field": "v", "type": "quantitative", "scale": {"domain": [0, 4]}, "axis": {"values": [0,0.5,1,1.5,2,2.5,3,3.5,4], "format": ".1f", "title": "Rₜ", "titleX": -17, "titleY": 108}},
  "color": {"field": "s", "type": "nominal", "scale": {"domain": ["S", "P"], "range": ["#5b9bd5", "#ed7d31"]},
   "legend": {"title": null, "legendX": 104, "legendY": 229, "labelExpr": "datum.value == 'S' ? 'Symptomatics' : 'Positive Swabs\u00a0\u00a0\u00a0\u00a0'"}}
 }}
],
"resolve": {"legend": {"color": "independent"}},
"config": {
 "font": "Lato",
 "view": {"stroke": null},
 "axis": {"labelFont": "Lato", "labelFontSize": 7, "labelColor": "#595959", "gridColor": "#d9d9d9", "gridWidth": 0.8, "domainColor": "#d9d9d9", "ticks": false, "titleFont": "Lato", "titleFontSize": 8, "titleColor": "#595959", "titleFontWeight": "normal"},
 "axisX": {"labelAngle": -45, "labelPadding": 2, "labelOverlap": false, "labelFlush": false},
 "axisY": {"domain": false, "labelPadding": 6},
 "legend": {"orient": "none", "direction": "horizontal", "symbolType": "stroke", "symbolSize": 64, "symbolStrokeWidth": 1.5, "symbolOffset": 8, "labelFont": "Lato", "labelFontSize": 8, "labelColor": "#595959", "strokeColor": "#bfbfbf", "padding": 2, "columnPadding": 11, "labelOffset": 2},
 "title": {"font": "Lato", "fontSize": 7.5, "color": "#595959", "fontWeight": "normal", "anchor": "start", "offset": -18, "baseline": "middle"}
}
}
